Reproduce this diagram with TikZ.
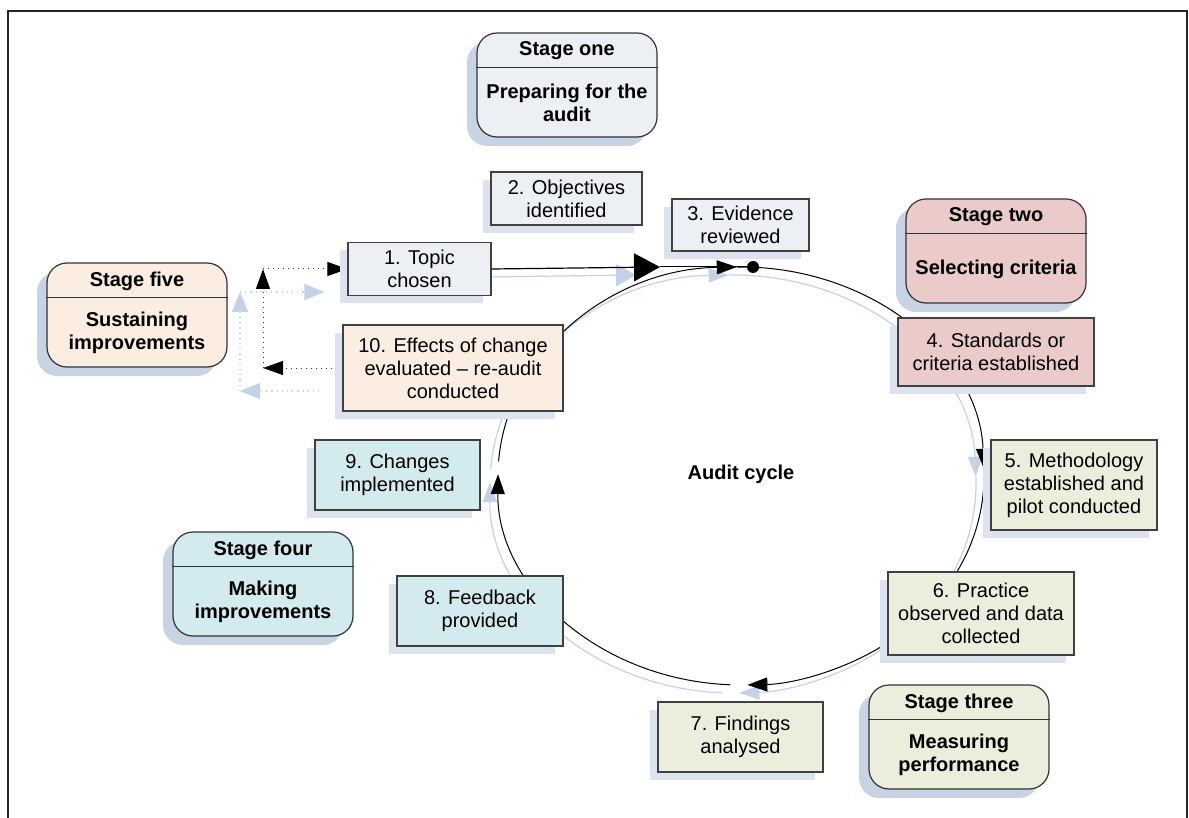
\documentclass[tikz,border=0pt]{standalone}
\usepackage{fontspec}
\setmainfont{Liberation Sans}
\usetikzlibrary{shapes, arrows.meta, positioning, calc, shadows, backgrounds}

\definecolor{prepfill}{HTML}{ECF0F5}
\definecolor{critfill}{HTML}{EBCACA}
\definecolor{measfill}{HTML}{EBEEDD}
\definecolor{impfill}{HTML}{D3EAEF}
\definecolor{sustfill}{HTML}{FCEDE3}
\definecolor{boxshade}{HTML}{DCE3EE}
\definecolor{stageshade}{HTML}{C8D4E4}
\definecolor{ghostblue}{HTML}{C3D2E6}

\begin{document}
\begin{tikzpicture}[x=0.5pt, y=-0.5pt,
  every node/.style={font=\fontsize{10}{11.5}\selectfont, align=center},
  stepbox/.style={rectangle, draw=black!75, line width=0.6pt, inner sep=2pt,
    drop shadow={shadow xshift=-4pt, shadow yshift=-4pt, fill=boxshade, opacity=1}},
  stagebox/.style={rectangle, rounded corners=10pt, draw=black!80, line width=0.6pt,
    minimum width=90pt, minimum height=52pt,
    drop shadow={shadow xshift=-5pt, shadow yshift=-4.5pt, fill=stageshade, opacity=1}},
  stageline/.style={draw=black!80, line width=0.6pt},
  stagetext/.style={font=\fontsize{10}{11.5}\selectfont\bfseries},
  cyc/.style={line width=0.5pt, -{Triangle[length=10pt, width=7pt]}},
  ghost/.style={draw=ghostblue, line width=0.6pt, -{Triangle[length=10pt, width=7pt]}},
  bigarrow/.style={line width=0.6pt, -{Triangle[length=13pt, width=14pt]}},
  loopline/.style={dotted, draw=black!80, line width=0.5pt, -{Triangle[length=10pt, width=7pt, color=black]}},
  ghostloop/.style={dotted, draw=ghostblue, line width=0.6pt, -{Triangle[length=10pt, width=8pt]}}]
\useasboundingbox (0,0) rectangle (1189,818);
% Frame, open at the bottom
\draw[line width=1.1pt, black!85] (8,818) -- (8,11) -- (1187,11) -- (1187,818);

% Stages
\foreach \name/\x/\y/\col/\head/\body in {
  one/567/85/prepfill/Stage one/Preparing for the\\audit,
  two/996/251/critfill/Stage two/Selecting criteria,
  three/959/737/measfill/Stage three/Measuring\\performance,
  four/263/584/impfill/Stage four/Making\\improvements,
  five/137/315/sustfill/Stage five/Sustaining\\improvements} {
  \node[stagebox, fill=\col] (\name) at (\x,\y) {};
  \draw[stageline] ([yshift=-17.5pt]\name.north west) -- ([yshift=-17.5pt]\name.north east);
  \node[stagetext] (\name head) at ([yshift=-9.3pt]\name.north) {\head};
  \node[stagetext] (\name body) at ([yshift=17.25pt]\name.south) {\body};
}

% Audit steps
\foreach \name/\x/\y/\w/\h/\col/\txt in {
  topic/419.5/269/143/53/prepfill/1. Topic\\chosen,
  objectives/566.5/198.5/151/53/prepfill/2. Objectives\\identified,
  evidence/740.5/225/137/52/prepfill/3. Evidence\\reviewed,
  standards/996/352/196/68/critfill/4. Standards or\\criteria established,
  method/1074/485/166/90/measfill/5. Methodology\\established and\\pilot conducted,
  practice/981/613.5/186/83/measfill/6. Practice\\observed and data\\collected,
  findings/740.5/737/165/70/measfill/7. Findings\\analysed,
  feedback/480/611/166/70/impfill/8. Feedback\\provided,
  changes/397.5/475/165/70/impfill/9. Changes\\implemented,
  effects/453/368/220/86/sustfill/10. Effects of change\\evaluated – re-audit\\conducted} {
  \node[stepbox, fill=\col, minimum width=\w*0.5pt, minimum height=\h*0.5pt] (\name) at (\x,\y) {\txt};
}

% Centre of the cycle
\node[stagetext] (cycle) at (741,474) {Audit cycle};
\node[circle, fill=black, inner sep=0pt, minimum size=6pt] (hub) at (753,267) {};

% Points on the cycle
\foreach \name/\ang in {arcA/91, arcB/2, arcC/-92.5, arcD/176} {
  \coordinate (\name) at ({741+243*cos(\ang)}, {476-209*sin(\ang)});
}
\coordinate (bigtip) at (660,267);
\coordinate (loopdown) at (263,368);
\coordinate (loopup) at (263,269);

\begin{scope}[on background layer]
% Shadows of the connectors
\foreach \name/\a/\b in {arcA/91/2, arcB/2/-88.5, arcC/-92.5/-180.5, arcD/176/91} {
  \draw[ghost] ([shift={(-8,8)}]\name) arc[start angle=\a, end angle=\b, x radius=121.5pt, y radius=104.5pt];
}
\draw[ghost, -{Triangle[length=10pt, width=11pt]}] ([shift={(-8,8)}]topic.east) -- ([shift={(-24,8)}]bigtip);
\draw[ghostloop] ([shift={(-23,23)}]effects.west) -- ([shift={(-23,23)}]loopdown);
\draw[ghostloop] ([shift={(-23,23)}]loopdown) -- ([shift={(-23,23)}]loopup);
\draw[ghostloop] ([shift={(-23,23)}]loopup) -- ([shift={(-23,23)}]topic.west);
% Cycle
\foreach \name/\a/\b in {arcA/91/2, arcB/2/-88.5, arcC/-92.5/-180.5, arcD/176/91} {
  \draw[cyc] (\name) arc[start angle=\a, end angle=\b, x radius=121.5pt, y radius=104.5pt];
}
\draw[bigarrow] (topic.east) -- (bigtip);
\draw[line width=0.5pt] (bigtip) -- (hub);
% Re-audit loop
\draw[loopline] (effects.west) -- (loopdown);
\draw[loopline] (loopdown) -- (loopup);
\draw[loopline] (loopup) -- (topic.west);
\end{scope}
\end{tikzpicture}
\end{document}
